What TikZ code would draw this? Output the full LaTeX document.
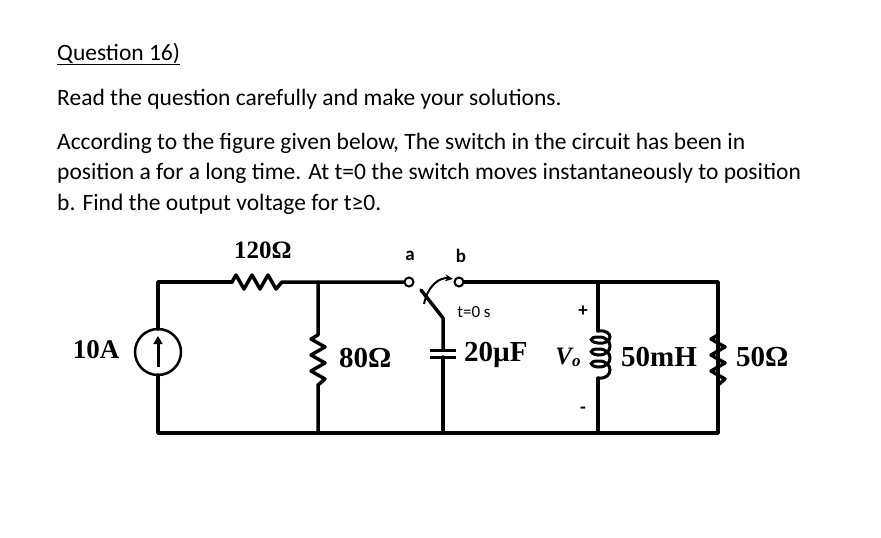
\documentclass[tikz,border=0pt]{standalone}
\usepackage{fontspec}
\setmainfont{Liberation Serif}
\newfontfamily\calfont{Carlito}
\usetikzlibrary{arrows.meta}
\begin{document}
\begin{tikzpicture}[x=1pt,y=-1pt,
  wire/.style={line width=3.5pt,line cap=round,line join=round},
  ttext/.style={font=\calfont\fontsize{23.5}{28}\selectfont,anchor=base west,inner sep=0pt},
  clab/.style={font=\fontsize{29}{32}\selectfont\bfseries,inner sep=0pt},
  slab/.style={font=\calfont\fontsize{19}{22}\selectfont\bfseries,inner sep=0pt}]
\useasboundingbox (0,0) rectangle (881,538);
% text
\node[ttext] (q) at (57,60) {\underline{Question 16)}};
\node[ttext] (l1) at (57,105) {Read the question carefully and make your solutions.};
\node[ttext] (l2) at (57,149) {According to the figure given below, The switch in the circuit has been in};
\node[ttext] (l3) at (57,179) {position a for a long time. At t=0 the switch moves instantaneously to position};
\node[ttext] (l4) at (57,210) {b. Find the output voltage for t≥0.};
% coordinates
\coordinate (tl) at (158,282); \coordinate (bl) at (158,433);
\coordinate (n1) at (318,282); \coordinate (n1b) at (318,433);
\coordinate (ta) at (409,282); \coordinate (tb) at (459,282);
\coordinate (cb) at (443,433); \coordinate (lt) at (598,282); \coordinate (lb) at (598,433);
\coordinate (tr) at (718,282); \coordinate (br) at (718,433);
% left loop and source
\draw[wire] (158,329) -- (tl) -- (232,282);
\draw[wire] (158,375) -- (bl) -- (br) -- (tr) -- (tb);
\draw[wire] (232,282) -- (236,275) -- (244,289) -- (252,275) -- (260,289) -- (268,275) -- (276,289) -- (282,282) -- (ta);
\node[draw,circle,line width=2.5pt,minimum size=46pt,inner sep=0pt] (src) at (158,352) {};
\draw[line width=3pt,-{Triangle[width=9pt,length=8pt]}] (158,367) -- (158,336);
% 80 ohm
\draw[wire] (n1) -- (318,335) -- (311,339) -- (325,347) -- (311,355) -- (325,363) -- (311,371) -- (325,379) -- (318,385) -- (n1b);
% switch
\draw[line width=2pt,fill=white] (ta) circle (4.5) (tb) circle (4.5);
\draw[wire] (443,350) -- (443,318) -- (421,290);
\draw[line width=2pt,-{Stealth[length=8pt,width=7pt]}] (424,304) .. controls (428,285) and (440,277) .. (453,279);
% capacitor
\draw[wire] (443,357) -- (cb);
\draw[line width=3pt] (430,350) -- (456,350) (430,357) -- (456,357);
% inductor
\draw[wire] (lt) -- (598,331);
\draw[line width=3pt] (598,331) .. controls (614,329) and (614,345) .. (598,343) .. controls (589,342) and (589,337) .. (598,337)
 .. controls (614,336) and (614,356) .. (598,355) .. controls (589,354) and (589,349) .. (598,349)
 .. controls (614,348) and (614,368) .. (598,367) .. controls (589,366) and (589,361) .. (598,361)
 .. controls (614,360) and (614,380) .. (598,378);
\draw[wire] (598,378) -- (lb);
% 50 ohm
\draw[wire] (tr) -- (718,335) -- (711,339) -- (725,347) -- (711,355) -- (725,363) -- (711,371) -- (725,379) -- (718,385) -- (br);
% labels
\node[clab,font=\fontsize{25}{28}\selectfont\bfseries] (r1l) at (263,250) {120Ω};
\node[clab,font=\fontsize{27}{30}\selectfont\bfseries] (sl) at (96,350) {10A};
\node[clab,anchor=west] (r2l) at (339,358) {80Ω};
\node[clab,anchor=west] (cl) at (464,355) {20µF};
\node[clab,anchor=west] (ll) at (621,357) {50mH};
\node[clab,anchor=west] (r3l) at (736,357) {50Ω};
\node[clab,font=\fontsize{25}{28}\selectfont\bfseries] (vo) at (568,357) {\itshape V\raisebox{-2pt}{\fontsize{17}{17}\selectfont o}};
\node[slab] (la) at (410,256) {a};
\node[slab] (lbb) at (461,256) {b};
\node[font=\calfont\fontsize{17}{20}\selectfont,inner sep=0pt] (t0) at (474,312) {t=0 s};
\node[slab] (pl) at (583,311) {+};
\node[slab] (mi) at (583,410) {-};
\end{tikzpicture}
\end{document}
